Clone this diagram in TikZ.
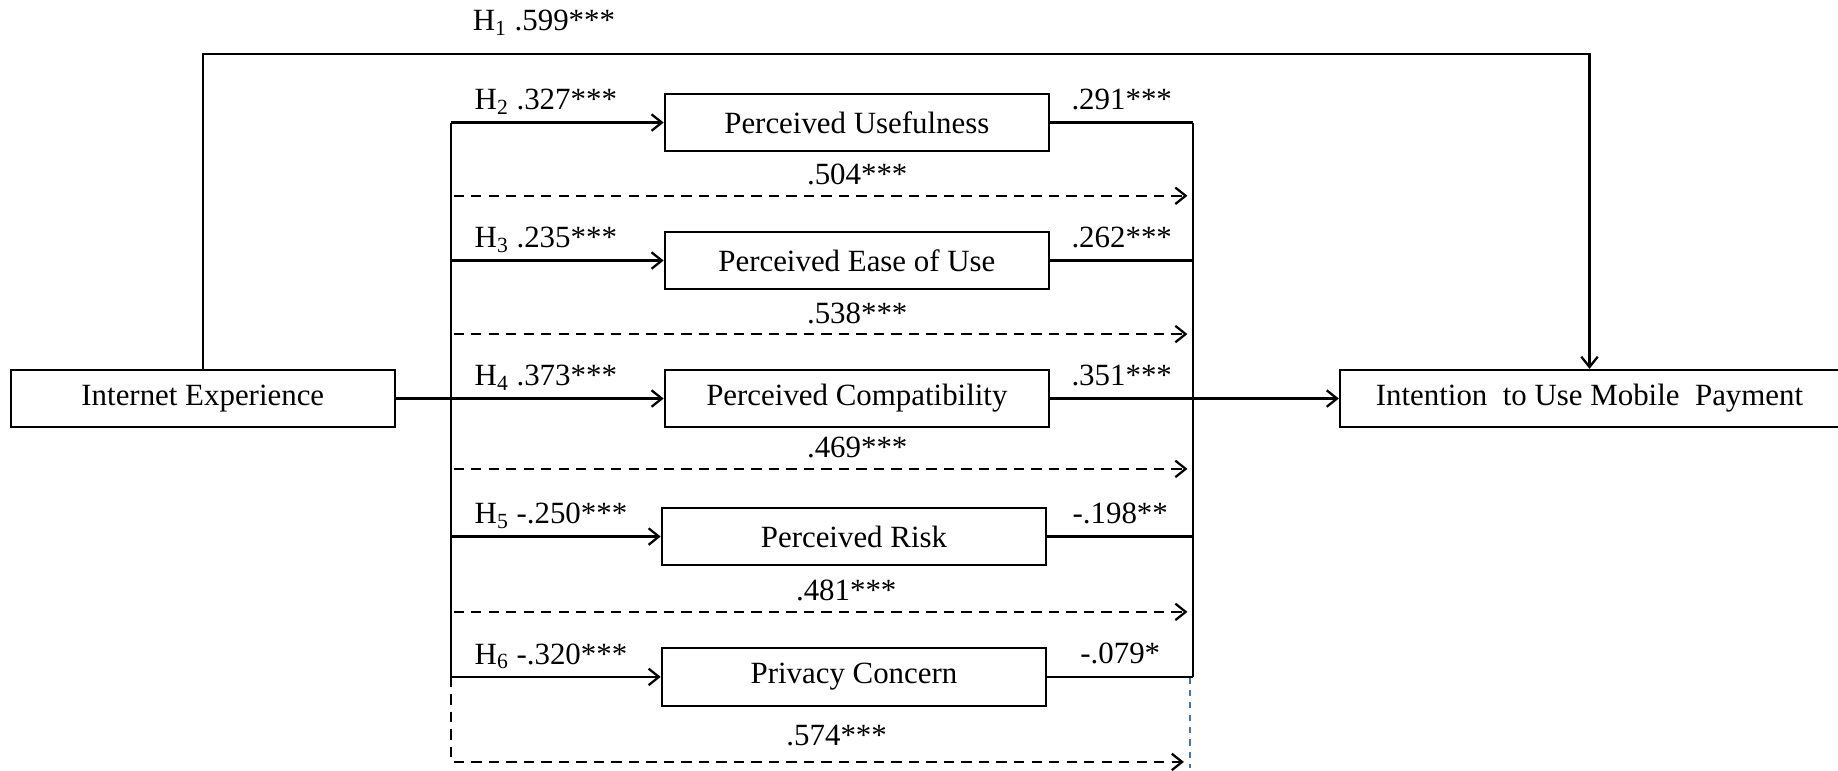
\documentclass[tikz,border=0pt]{standalone}
\usepackage{fontspec}
\setmainfont{Liberation Serif}
\usepackage{xcolor}
\usepackage{tikz}
\usetikzlibrary{arrows.meta,positioning}

\definecolor{lineblue}{RGB}{68,114,196}

\begin{document}
\begin{tikzpicture}[
    x=0.02cm, y=-0.02cm,
    node distance=1.34cm,
    font=\fontsize{15}{18}\selectfont,
    >={Straight Barb[length=5pt,width=8pt]},
    box/.style={rectangle, draw, line width=1pt, minimum width=6.56cm, minimum height=0.98cm, align=center, inner sep=0pt},
    line/.style={line width=1.1pt},
    arrow/.style={->, line width=1.1pt},
    dasharrow/.style={->, line width=1.1pt, dash pattern=on 5pt off 3.5pt},
    bluedash/.style={lineblue, line width=0.7pt, dash pattern=on 3pt off 3pt},
    hlbl/.style={anchor=south west, pos=0, inner sep=0pt, xshift=0.38cm, yshift=0.12cm},
    rlbl/.style={above=0.2cm, inner sep=0pt},
    dlbl/.style={above=0.16cm, inner sep=0pt}
]
\useasboundingbox (0,0) rectangle (1568,657);

% constructs
\node[box] (ie) at (173,340) {Internet Experience};
\node[box, minimum width=8.52cm] (itu) at (1356,340) {Intention~ to Use Mobile~ Payment};
\node[box] (pc) at (731,340) {Perceived Compatibility};
\node[box, above=of pc] (peou) {Perceived Ease of Use};
\node[box, above=of peou] (pu) {Perceived Usefulness};
\node[box, below=of pc, xshift=-0.05cm] (pr) {Perceived Risk};
\node[box, below=1.38cm of pr] (prc) {Privacy Concern};

% buses and corners
\coordinate (lbus) at (385,0);
\coordinate (rbus) at (1018,0);
\coordinate (top) at (1356,46);
\coordinate (d1s) at (387,167);
\coordinate (d1e) at (1013,167);
\coordinate (d2s) at (387,285);
\coordinate (d2e) at (1013,285);
\coordinate (d3s) at (387,400);
\coordinate (d3e) at (1013,400);
\coordinate (d4s) at (387,522);
\coordinate (d4e) at (1013,522);
\coordinate (d5e) at (1010,650);
\coordinate (b1) at (1015,578);
\coordinate (b2) at (1015,655);

% direct effect
\draw[arrow] (ie.north) |- node[above=0.3cm, inner sep=0pt, pos=0.623] {H\textsubscript{1} .599***} (top) -- (itu.north);

% left side
\draw[line] (ie.east) -- (ie.east -| lbus);
\draw[line] (pu.west -| lbus) -- (prc.west -| lbus);
\draw[arrow] (pu.west -| lbus) -- node[hlbl] {H\textsubscript{2} .327***} (pu.west);
\draw[arrow] (peou.west -| lbus) -- node[hlbl] {H\textsubscript{3} .235***} (peou.west);
\draw[arrow] (pc.west -| lbus) -- node[hlbl] {H\textsubscript{4} .373***} (pc.west);
\draw[arrow] (pr.west -| lbus) -- node[hlbl] {H\textsubscript{5} -.250***} (pr.west);
\draw[arrow] (prc.west -| lbus) -- node[hlbl] {H\textsubscript{6} -.320***} (prc.west);

% right side
\draw[line] (pu.east) -- node[rlbl] {.291***} (pu.east -| rbus);
\draw[line] (peou.east) -- node[rlbl] {.262***} (peou.east -| rbus);
\draw[line] (pc.east) -- node[rlbl] {.351***} (pc.east -| rbus);
\draw[line] (pr.east) -- node[rlbl] {-.198**} (pr.east -| rbus);
\draw[line] (prc.east) -- node[rlbl] {-.079*} (prc.east -| rbus);
\draw[line] (pu.east -| rbus) -- (prc.east -| rbus);
\draw[arrow] (pc.east -| rbus) -- (itu.west);

% total effects
\draw[dasharrow] (d1s) -- node[dlbl, pos=0.55] {.504***} (d1e);
\draw[dasharrow] (d2s) -- node[dlbl, pos=0.55] {.538***} (d2e);
\draw[dasharrow] (d3s) -- node[dlbl, pos=0.55] {.469***} (d3e);
\draw[dasharrow] (d4s) -- node[dlbl, pos=0.535] {.481***} (d4e);
\draw[dasharrow] (prc.west -| lbus) |- node[above=0.26cm, inner sep=0pt, pos=0.763] {.574***} (d5e);
\draw[bluedash] (b1) -- (b2);
\end{tikzpicture}
\end{document}
